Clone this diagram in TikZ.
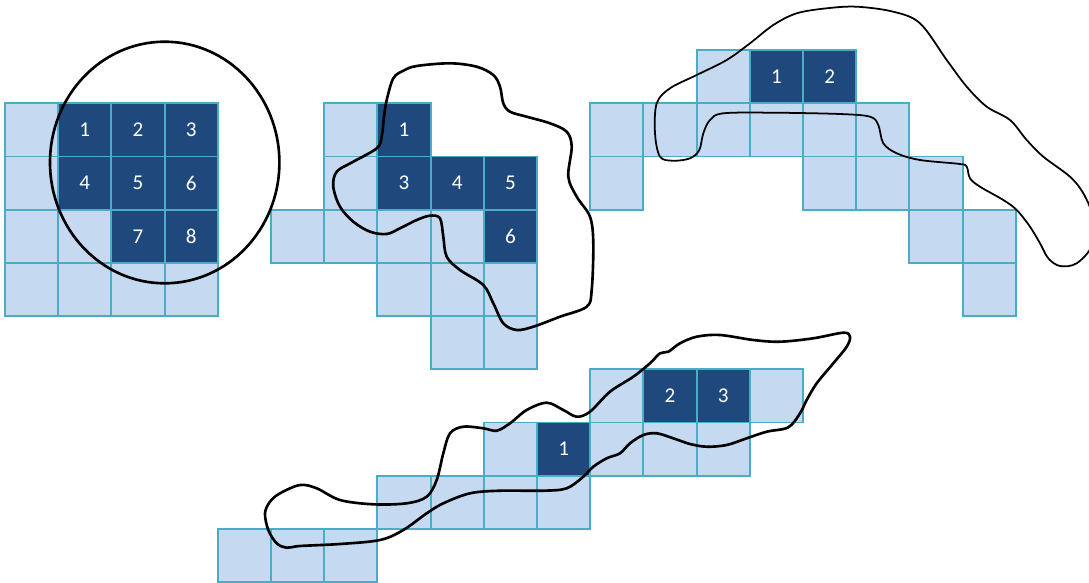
\documentclass[tikz,border=0pt]{standalone}
\usepackage{fontspec}
\setmainfont{Carlito}
\usetikzlibrary{positioning}
\definecolor{celllight}{RGB}{197,217,241}
\definecolor{celldark}{RGB}{31,73,125}
\definecolor{cellline}{RGB}{75,172,198}

\begin{document}
\begin{tikzpicture}[x=0.02cm,y=-0.02cm,
  lightcell/.style={draw=cellline,fill=celllight,line width=1.1pt,minimum size=1.064cm,inner sep=0pt},
  darkcell/.style={lightcell,fill=celldark,text=white,font=\fontsize{12}{14}\selectfont},
  blob/.style={black,line width=1.5pt,line join=round},
  thinblob/.style={black,line width=1pt,line join=round}]
\useasboundingbox (0,0) rectangle (1089,582);
\clip (0,0) rectangle (1089,582);
% light cells
\foreach \c/\r in {0/0,0/1,0/2,1/2,0/3,1/3,2/3,3/3,
                   6/0,6/1,5/2,6/2,7/2,8/2,7/3,8/3,9/3,8/4,9/4,
                   13/-1,11/0,12/0,13/0,14/0,15/0,16/0,11/1,15/1,16/1,17/1,17/2,18/2,18/3,
                   11/5,14/5,9/6,11/6,12/6,13/6,7/7,8/7,9/7,10/7,4/8,5/8,6/8}
  \node[lightcell] (cell-\c-\r) at ({31.6+53.2*\c},{129.9+53.2*\r}) {};
% dark cells
\foreach \c/\r/\n in {1/0/1,2/0/2,3/0/3,1/1/4,2/1/5,3/1/6,2/2/7,3/2/8,
                      7/0/1,7/1/3,8/1/4,9/1/5,9/2/6,
                      14/-1/1,15/-1/2,
                      10/6/1,12/5/2,13/5/3}
  \node[darkcell] (cell-\c-\r) at ({31.6+53.2*\c},{129.9+53.2*\r}) {\n};
% loops
\draw[blob] (164.7,162.5) ellipse [x radius=114.7,y radius=120.8];
\draw[blob] plot[smooth cycle,tension=0.55] coordinates {
  (386.7,100) (393.3,78.3) (403.3,70.7) (416.7,66) (450,63.3) (476.7,66.7)
  (493.3,75) (500,86.7) (503.3,103.3) (510,111.7) (526.7,116.7) (550,123.3)
  (566.7,131.7) (571.7,146.7) (568.3,176.7) (576.7,196.7) (590,216.7)
  (593.3,243.3) (591.7,290) (586.7,306.7) (560,316.7) (533.3,326.7)
  (516.7,330) (503.3,323.3) (493.3,303.3) (483.3,285) (460,270) (446.7,256.7)
  (443.3,236.7) (440,218.3) (430,215.7) (416.7,220) (400,228.3) (386.7,234)
  (370,231.7) (353.3,221.7) (340,206.7) (333.3,186.7) (336.7,171.7)
  (353.3,161.7) (376.7,148.3) (381.7,136.7) (384,116.7)};
\draw[thinblob] plot[smooth cycle,tension=0.55] coordinates {
  (655,133.3) (656.7,103.3) (670,88.3) (696.7,75) (726.7,60) (750,43.3)
  (773.3,25) (796.7,13.3) (826.7,8.3) (856.7,6.7) (893.3,11.7) (920,23.3)
  (946.7,60) (966.7,86.7) (986.7,106.7) (1010,120) (1026.7,140)
  (1043.3,156.7) (1070,176.7) (1083.3,193.3) (1092,215) (1092,245)
  (1076.7,263.3) (1060,266) (1048.3,258.3) (1040,243.3) (1030,226.7)
  (1016.7,210) (1003.3,200) (980,186.7) (970,178.3) (966.7,166.7) (960,164)
  (920,160) (896.7,153.3) (883.3,143.3) (878.3,125) (870,116.7) (840,114)
  (773.3,112.7) (723.3,113.3) (710,120) (703.3,133.3) (699.3,150)
  (690,158.3) (673.3,160.7) (660,156.7)};
\draw[blob] plot[smooth cycle,tension=0.55] coordinates {
  (265,513.3) (270,501.7) (280,493.3) (300,485) (316.7,488.3) (340,500)
  (373.3,504.3) (406.7,503.3) (426.7,496.7) (436.7,480) (443.3,453.3)
  (450,433.3) (463.3,426.7) (483.3,428.3) (496.7,430.7) (510,423.3)
  (526.7,410) (546.7,402.7) (563.3,410) (576.7,416.7) (590,411.7)
  (610,391.7) (633.3,376.7) (650,363.3) (660,353.3) (668.3,351.7)
  (680,343.3) (696.7,336.7) (720,335) (753.3,340) (780,341.7) (813.3,338.3)
  (843.3,332.7) (850,336.7) (846.7,346.7) (833.3,363.3) (816.7,383.3)
  (806.7,400) (800,413.3) (788.3,427.3) (766.7,431.7) (746.7,438.3)
  (726.7,445) (706.7,446.7) (690,444) (673.3,438.3) (656.7,433.3)
  (643.3,435) (630,443.3) (620,453.3) (606.7,458.3) (593.3,466.7)
  (583.3,476.7) (566.7,488.3) (543.3,490.7) (500,490.7) (470,493.3)
  (443.3,503.3) (426.7,513.3) (403.3,530) (380,540) (340,544) (300,546)
  (286.7,547.7) (276.7,543.3) (268.3,530)};
\end{tikzpicture}
\end{document}
